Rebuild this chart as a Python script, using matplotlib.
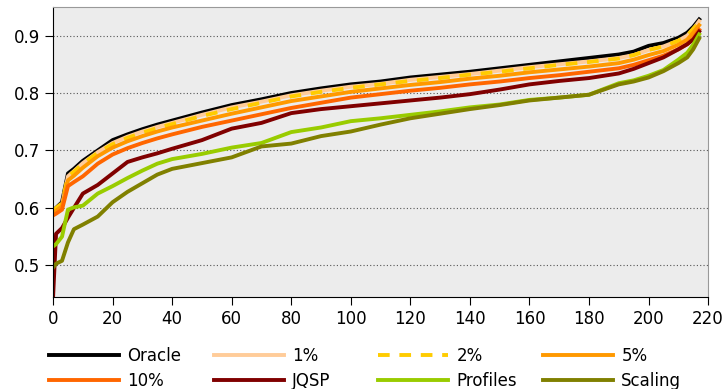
import matplotlib
matplotlib.use("Agg")
import matplotlib.pyplot as plt

# sample positions along the sorted run index
x = [0, 1, 3, 5, 7, 10, 15, 20, 25, 30, 35, 40, 50, 60, 70, 80, 90, 100,
     110, 120, 130, 140, 150, 160, 170, 180, 190, 195, 200, 205, 210, 213,
     215, 217]

oracle = [0.595, 0.600, 0.610, 0.660, 0.668, 0.682, 0.700, 0.718, 0.728,
          0.737, 0.745, 0.752, 0.766, 0.779, 0.789, 0.800, 0.808, 0.815,
          0.820, 0.827, 0.832, 0.837, 0.843, 0.849, 0.855, 0.861, 0.867,
          0.872, 0.882, 0.887, 0.896, 0.905, 0.915, 0.928]
p1 = [0.590, 0.598, 0.605, 0.655, 0.664, 0.678, 0.697, 0.713, 0.724, 0.733,
      0.741, 0.748, 0.762, 0.775, 0.785, 0.796, 0.804, 0.811, 0.816, 0.823,
      0.828, 0.833, 0.839, 0.845, 0.850, 0.855, 0.861, 0.866, 0.875, 0.881,
      0.891, 0.900, 0.911, 0.925]
p2 = [0.595, 0.600, 0.608, 0.655, 0.663, 0.677, 0.696, 0.711, 0.722, 0.731,
      0.739, 0.746, 0.760, 0.772, 0.783, 0.794, 0.802, 0.809, 0.815, 0.821,
      0.826, 0.832, 0.837, 0.843, 0.849, 0.854, 0.860, 0.866, 0.875, 0.881,
      0.891, 0.900, 0.912, 0.922]
p5 = [0.590, 0.595, 0.603, 0.648, 0.656, 0.670, 0.690, 0.705, 0.716, 0.725,
      0.733, 0.740, 0.752, 0.764, 0.775, 0.786, 0.794, 0.802, 0.808, 0.814,
      0.819, 0.825, 0.830, 0.836, 0.841, 0.846, 0.852, 0.858, 0.866, 0.873,
      0.884, 0.893, 0.905, 0.918]
p10 = [0.587, 0.590, 0.597, 0.638, 0.645, 0.655, 0.677, 0.693, 0.704, 0.713,
       0.721, 0.728, 0.741, 0.752, 0.763, 0.774, 0.783, 0.792, 0.798, 0.804,
       0.809, 0.815, 0.820, 0.826, 0.831, 0.837, 0.843, 0.849, 0.857, 0.865,
       0.876, 0.885, 0.895, 0.910]
jqsp = [0.445, 0.555, 0.565, 0.583, 0.600, 0.625, 0.640, 0.660, 0.680, 0.688,
        0.695, 0.703, 0.718, 0.738, 0.748, 0.765, 0.772, 0.777, 0.782, 0.787,
        0.792, 0.798, 0.806, 0.815, 0.821, 0.826, 0.834, 0.842, 0.852, 0.862,
        0.876, 0.885, 0.893, 0.907]
profiles = [0.533, 0.537, 0.550, 0.597, 0.601, 0.604, 0.625, 0.638, 0.652,
            0.665, 0.677, 0.685, 0.694, 0.705, 0.713, 0.732, 0.740, 0.751,
            0.756, 0.762, 0.768, 0.775, 0.780, 0.788, 0.792, 0.797, 0.817,
            0.822, 0.830, 0.840, 0.858, 0.870, 0.884, 0.902]
scaling = [0.496, 0.503, 0.508, 0.540, 0.563, 0.571, 0.585, 0.610, 0.628,
           0.643, 0.658, 0.668, 0.678, 0.688, 0.707, 0.712, 0.725, 0.733,
           0.745, 0.756, 0.764, 0.772, 0.779, 0.787, 0.792, 0.797, 0.815,
           0.820, 0.827, 0.838, 0.852, 0.862, 0.876, 0.895]

series = [
    ("Oracle", oracle, "#000000", "-"),
    ("1%", p1, "#ffcc99", "-"),
    ("2%", p2, "#ffcc00", (0, (3, 2.5))),
    ("5%", p5, "#ff9900", "-"),
    ("10%", p10, "#ff6600", "-"),
    ("JQSP", jqsp, "#800000", "-"),
    ("Profiles", profiles, "#99cc00", "-"),
    ("Scaling", scaling, "#808000", "-"),
]

fig = plt.figure(figsize=(7.27, 3.89), dpi=100)
ax = fig.add_axes([0.073, 0.2365, 0.901, 0.746])
ax.set_facecolor("#ececec")

lines = []
for name, vals, color, ls in series:
    ln, = ax.plot(x, vals, color=color, lw=2.8, ls=ls, label=name)
    lines.append(ln)

ax.set_xlim(0, 220)
ax.set_ylim(0.445, 0.95)
ax.set_xticks(range(0, 221, 20))
ax.set_yticks([0.5, 0.6, 0.7, 0.8, 0.9])
ax.yaxis.grid(True, ls=(0, (1, 2)), color="#555555", lw=0.8)
ax.set_axisbelow(True)
ax.tick_params(labelsize=12, length=6, direction="out")
for side in ("top", "right"):
    ax.spines[side].set_color("#999999")
for side in ("left", "bottom"):
    ax.spines[side].set_color("black")

# legend as four equal-width columns, two rows, under the plot
col_x = [49, 214, 378, 543]
for i, cx in enumerate(col_x):
    pair = [lines[i], lines[i + 4]]
    fig.legend(pair, [ln.get_label() for ln in pair], loc="upper left",
               bbox_to_anchor=(cx / 727, 1 - 347 / 389), frameon=False,
               fontsize=12, handlelength=4.2, handletextpad=0.5,
               labelspacing=0.42, borderpad=0, borderaxespad=0)

fig.savefig("out.png", dpi=100)
